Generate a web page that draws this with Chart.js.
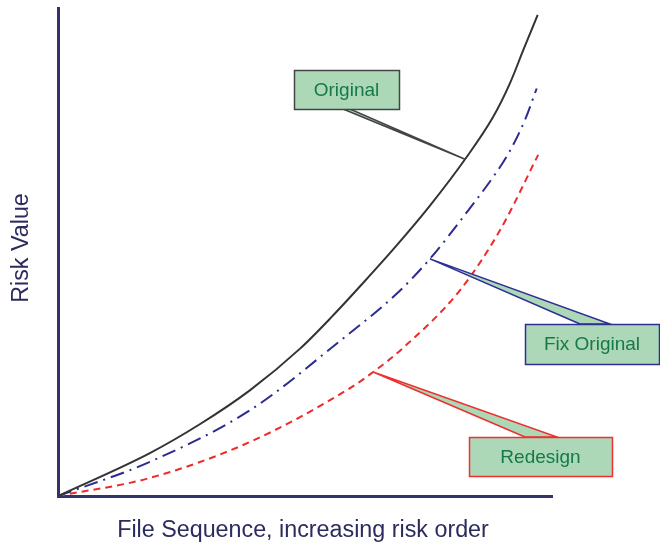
<html>
<head>
<script src="https://cdn.jsdelivr.net/npm/chart.js@4.4.0/dist/chart.umd.min.js"></script>
<style>
  body { margin: 0; background: white; }
  #wrap { width: 660px; height: 546px; }
</style>
</head>
<body>
<div id="wrap"><canvas id="riskChart"></canvas></div>
<script>
  // values, x and y both on a 0..100 scale
  var originalX = [0, 18.6, 28.7, 38.9, 49, 55.4, 61.8, 68.6, 75.3, 82.4, 88.1, 91.5, 94.2, 97.1];
  var originalY = [0, 8.8, 14.7, 21.7, 30.2, 36.7, 43.7, 51.4, 59.5, 69, 77.7, 84.6, 91.4, 98.6];

  var fixX = [0, 18.6, 38.9, 57.1, 68.6, 75.3, 83.1, 88.1, 91.2, 94.5, 96.9];
  var fixY = [0, 7.0, 17.6, 31.8, 41.5, 48.6, 58.6, 65.4, 70.2, 77, 83.5];

  var redesignX = [0, 18.6, 38.9, 59.1, 63.8, 69.8, 81.4, 89.5, 97.2];
  var redesignY = [0, 3.7, 11.1, 22.1, 25.4, 30.3, 42.2, 54.5, 69.9];

  var seriesNames = ["Original", "Fix Original", "Redesign"];
  // which point of each series the callout points to
  var calloutIndex = [9, 5, 4];

  var xTitle = "File Sequence, increasing risk order";
  var yTitle = "Risk Value";

  function toPoints(xs, ys) {
    return xs.map(function (x, i) { return { x: x, y: ys[i] }; });
  }

  var fontFamily = "'Liberation Sans', Arial, sans-serif";

  // boxes and wedge bases for the callouts (pixels)
  var boxes = [
    { x: 294, y: 70, w: 105, h: 39, stroke: "#444444", base: [343, 109, 350, 109] },
    { x: 525, y: 324, w: 134, h: 40, stroke: "#2e2e96", base: [580, 324, 610, 324] },
    { x: 469, y: 437, w: 143, h: 39, stroke: "#ee3030", base: [525, 437, 557, 437] }
  ];

  var calloutPlugin = {
    id: "callouts",
    afterDatasetsDraw: function (chart) {
      var ctx = chart.ctx;
      ctx.save();
      boxes.forEach(function (b, i) {
        var pt = chart.getDatasetMeta(i).data[calloutIndex[i]];
        // wedge
        ctx.beginPath();
        ctx.moveTo(b.base[0], b.base[1]);
        ctx.lineTo(pt.x, pt.y);
        ctx.lineTo(b.base[2], b.base[3]);
        ctx.closePath();
        ctx.fillStyle = "#acd8b8";
        ctx.fill();
        ctx.strokeStyle = b.stroke;
        ctx.lineWidth = 1.5;
        ctx.stroke();
        // box
        ctx.fillStyle = "#acd8b8";
        ctx.fillRect(b.x, b.y, b.w, b.h);
        ctx.strokeRect(b.x + 0.5, b.y + 0.5, b.w, b.h);
        ctx.fillStyle = "#17794a";
        ctx.font = "19px " + fontFamily;
        ctx.textAlign = "center";
        ctx.textBaseline = "middle";
        ctx.fillText(seriesNames[i], b.x + b.w / 2, b.y + b.h / 2 + 1);
      });

      // axis titles
      ctx.fillStyle = "#2b2b5e";
      ctx.font = "23.3px " + fontFamily;
      ctx.textAlign = "center";
      ctx.textBaseline = "middle";
      ctx.fillText(xTitle, 303, 531);
      ctx.translate(22, 248);
      ctx.rotate(-Math.PI / 2);
      ctx.fillText(yTitle, 0, 0);
      ctx.restore();
    }
  };

  var ctx = document.getElementById("riskChart");

  var riskChart = new Chart(ctx, {
    type: "line",
    data: {
      datasets: [
        {
          label: seriesNames[0],
          data: toPoints(originalX, originalY),
          borderColor: "#333333",
          borderWidth: 2,
          pointRadius: 0,
          fill: false,
          cubicInterpolationMode: "monotone"
        },
        {
          label: seriesNames[1],
          data: toPoints(fixX, fixY),
          borderColor: "#2b2b90",
          borderWidth: 2,
          borderDash: [14, 6, 2, 6],
          pointRadius: 0,
          fill: false,
          cubicInterpolationMode: "monotone"
        },
        {
          label: seriesNames[2],
          data: toPoints(redesignX, redesignY),
          borderColor: "#ee2a2a",
          borderWidth: 2,
          borderDash: [7, 5],
          pointRadius: 0,
          fill: false,
          cubicInterpolationMode: "monotone"
        }
      ]
    },
    options: {
      responsive: true,
      maintainAspectRatio: false,
      animation: false,
      layout: { padding: { left: 58, right: 108, top: 8, bottom: 50 } },
      plugins: { legend: { display: false }, tooltip: { enabled: false } },
      scales: {
        x: {
          type: "linear",
          min: 0,
          max: 100,
          grid: { display: false, drawTicks: false },
          ticks: { display: false },
          border: { display: true, color: "#33336b", width: 3 }
        },
        y: {
          min: 0,
          max: 100,
          grid: { display: false, drawTicks: false },
          ticks: { display: false },
          border: { display: true, color: "#33336b", width: 3 }
        }
      }
    },
    plugins: [calloutPlugin]
  });
</script>
</body>
</html>
